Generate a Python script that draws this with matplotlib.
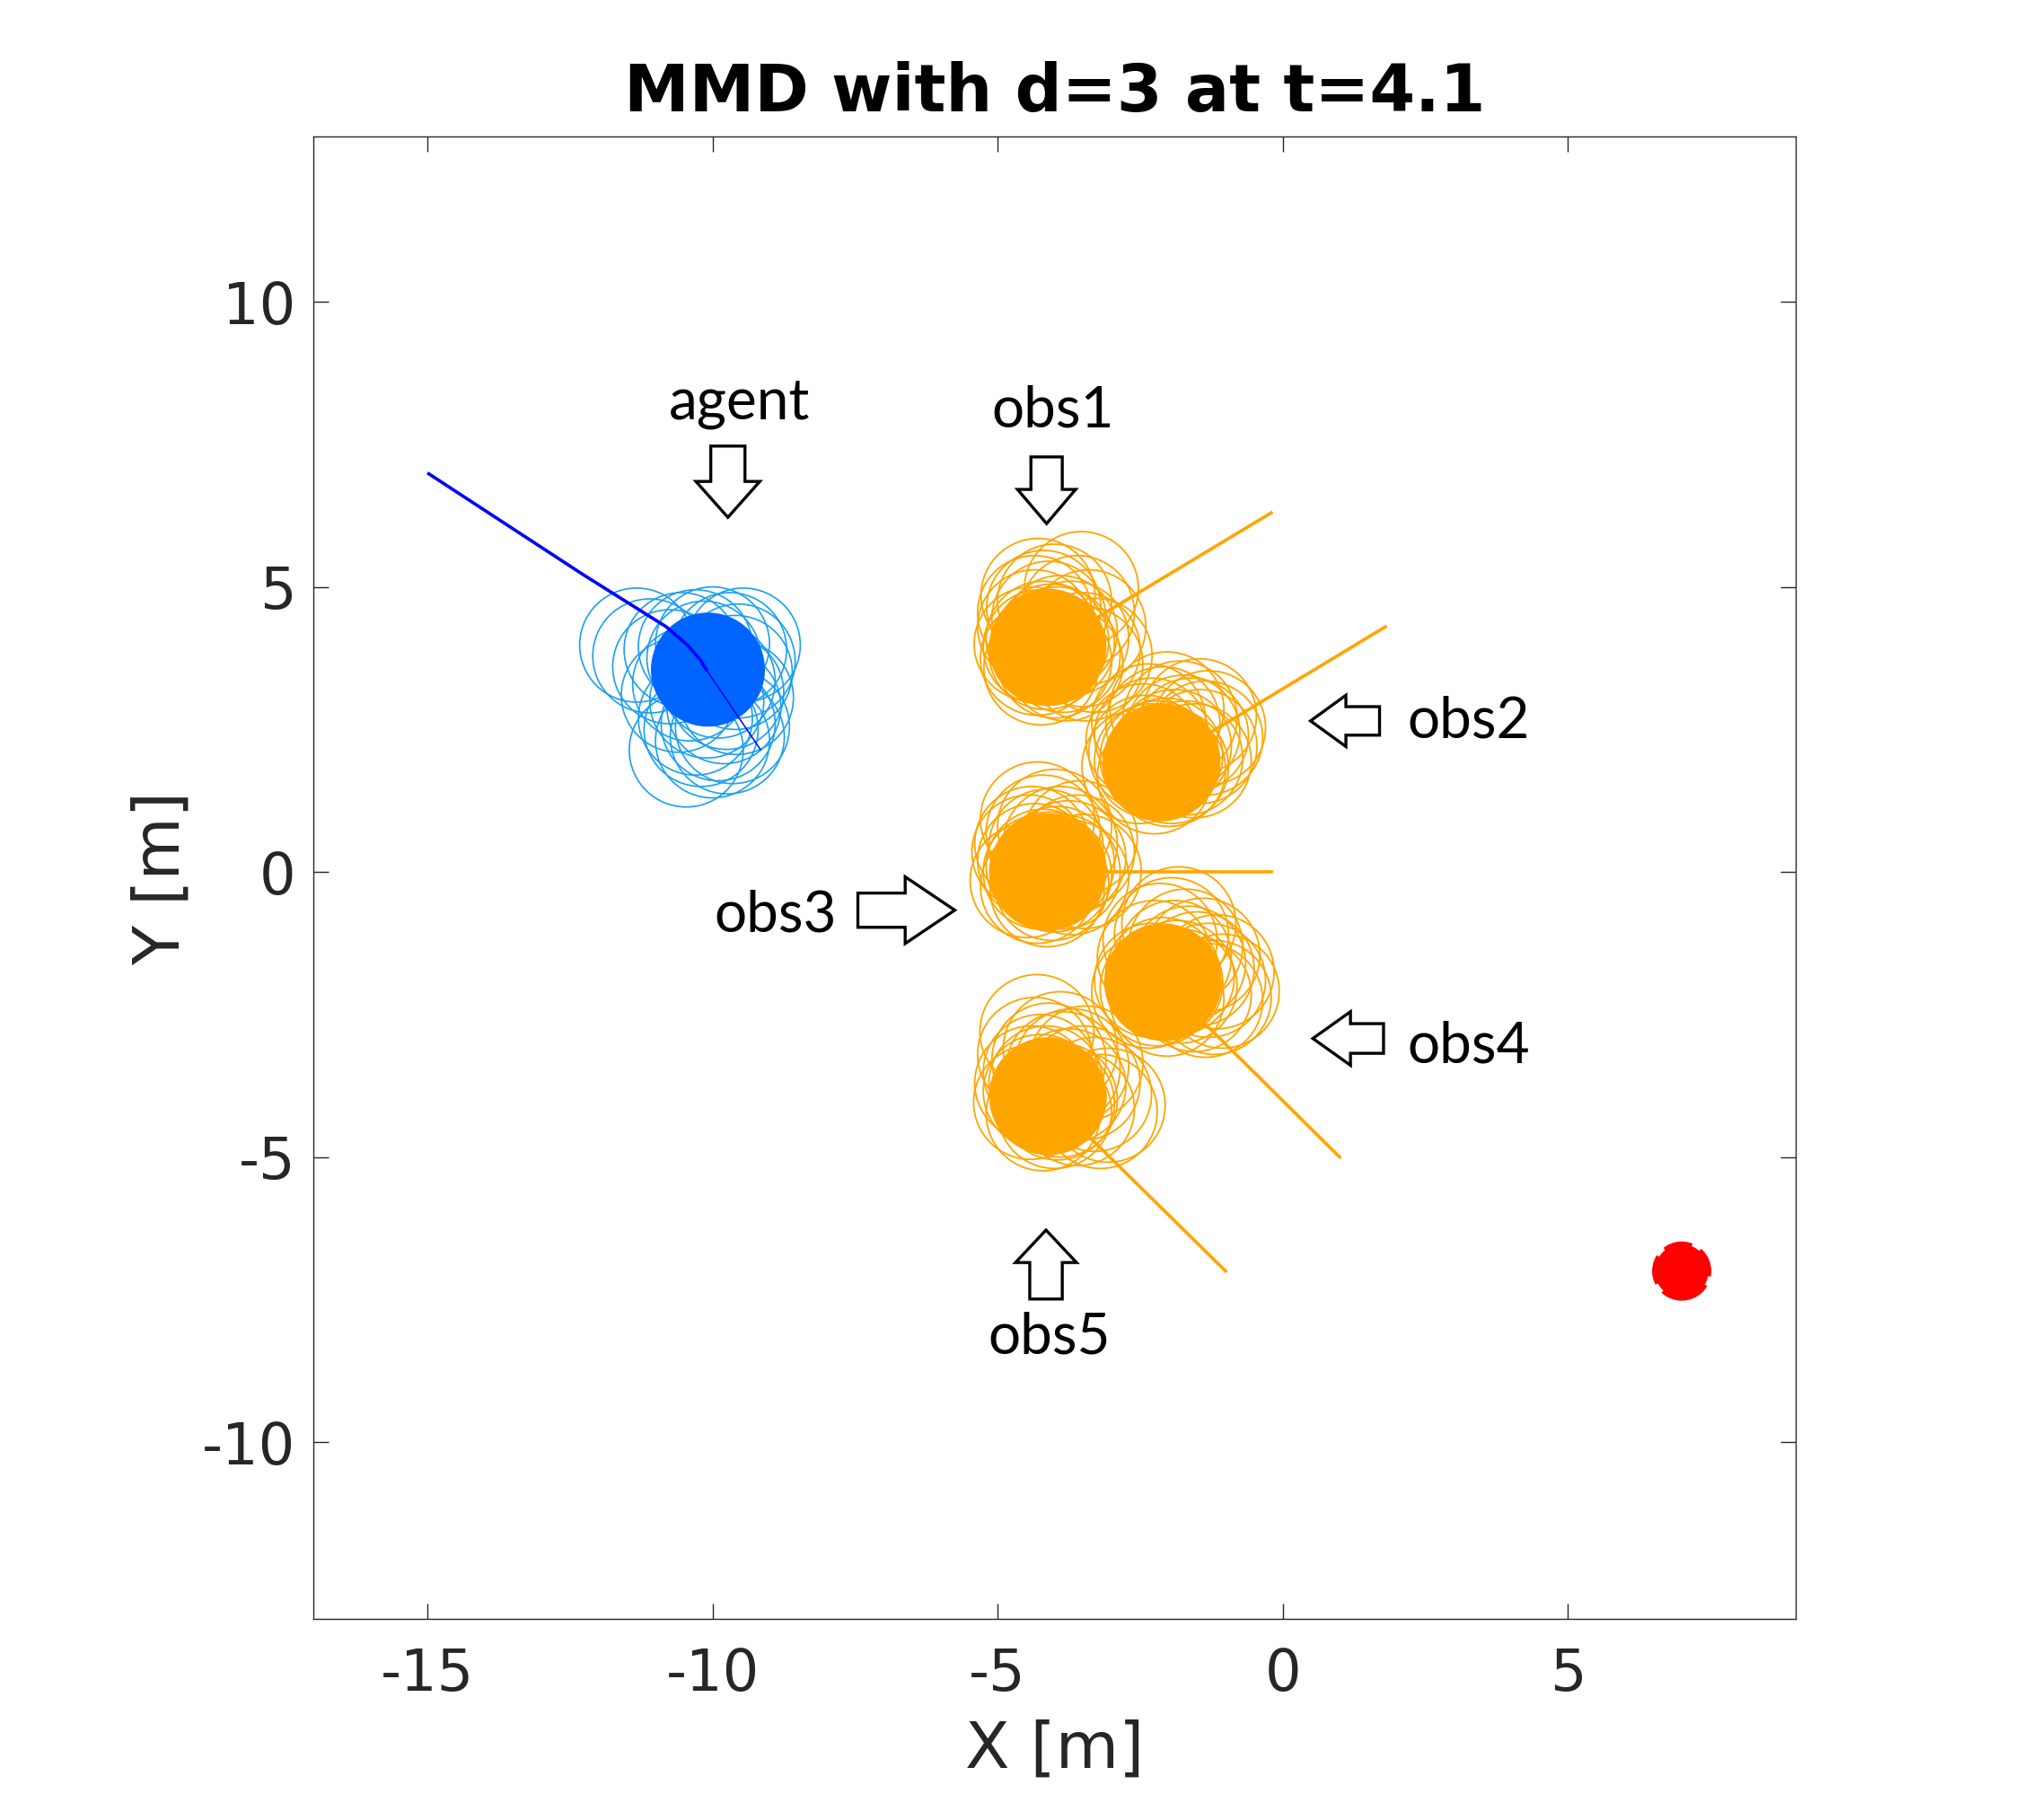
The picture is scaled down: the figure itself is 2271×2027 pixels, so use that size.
import numpy as np
import matplotlib
matplotlib.use('Agg')
import matplotlib.pyplot as plt
from matplotlib.patches import Circle, FancyArrow

plt.rcParams['axes.unicode_minus'] = False

# --- data ---
radius = 1.0

# agent: executed path (thick) and short planned path (thin)
agent_path_x = [-15.0, -12.26, -10.81, -10.44, -10.22, -10.09]
agent_path_y = [7.0, 5.21, 4.30, 3.98, 3.73, 3.52]
agent_plan_x = [-10.09, -9.16]
agent_plan_y = [3.52, 2.15]
agent_pos = (-10.08, 3.55)
agent_samples_x = [-11.33, -11.10, -10.46, -9.46, -9.58, -9.74, -10.75, -10.55, -10.30, -10.00,
                   -9.70, -9.60, -10.40, -10.10, -9.90, -10.20, -9.80, -10.60, -9.55, -10.00,
                   -9.65, -10.30, -9.90, -9.75, -10.15]
agent_samples_y = [3.98, 3.79, 2.14, 3.98, 3.06, 2.37, 3.60, 3.90, 3.95, 4.00,
                   3.90, 3.50, 3.30, 3.00, 2.60, 2.50, 2.90, 3.10, 3.70, 2.30,
                   2.55, 2.70, 3.35, 3.15, 3.75]

# obstacles: start of track, current position, predicted samples
obs_names = ['obs1', 'obs2', 'obs3', 'obs4', 'obs5']
obs_start_x = [-0.2, 1.8, -0.2, 1.0, -1.0]
obs_start_y = [6.3, 4.3, 0.0, -5.0, -7.0]
obs_pos_x = [-4.12, -2.12, -4.12, -2.10, -4.12]
obs_pos_y = [3.94, 1.93, 0.0, -1.93, -3.93]

obs1_samples_x = [-4.41, -4.35, -4.29, -4.19, -4.00, -3.53, -3.29, -4.24, -4.30, -4.10, -3.90,
                  -3.70, -3.50, -3.40, -3.60, -4.00, -3.80, -4.20, -3.95, -4.35, -3.45,
                  -4.15, -4.05, -4.25, -3.85]
obs1_samples_y = [4.00, 4.30, 4.85, 4.64, 4.75, 4.97, 3.80, 3.58, 3.75, 4.45, 4.20,
                  4.10, 3.90, 4.30, 4.55, 3.70, 3.65, 4.10, 4.00, 4.55, 3.65,
                  3.85, 4.05, 3.95, 3.80]
obs2_samples_x = [-2.52, -1.30, -2.03, -1.46, -2.25, -2.40, -2.30, -2.10, -1.80, -1.60,
                  -1.45, -1.70, -1.90, -2.00, -1.55, -2.35, -1.75, -2.20, -1.35, -2.45,
                  -2.15, -2.05, -1.95, -2.30]
obs2_samples_y = [1.85, 2.53, 2.86, 2.74, 1.67, 2.10, 2.40, 2.60, 2.70, 2.40,
                  2.20, 2.00, 2.20, 1.80, 1.95, 2.65, 2.45, 2.00, 2.35, 2.30,
                  1.90, 2.05, 1.85, 1.95]
obs3_samples_x = [-4.48, -4.30, -3.48, -4.13, -4.35, -4.40, -4.20, -4.00, -3.90, -3.75,
                  -3.60, -4.25, -4.05, -3.85, -4.45, -3.70, -4.15, -3.95, -3.55, -4.30,
                  -4.10, -4.20, -4.00]
obs3_samples_y = [-0.15, 0.93, 0.01, -0.31, 0.20, 0.50, 0.70, 0.80, 0.50, 0.25,
                  0.35, 0.00, -0.20, 0.00, 0.35, -0.10, 0.45, 0.15, 0.60, -0.25,
                  0.05, 0.10, -0.05]
obs4_samples_x = [-2.35, -1.82, -1.06, -2.03, -1.40, -2.25, -2.15, -1.95, -1.70, -1.50,
                  -1.30, -1.20, -1.55, -1.80, -2.10, -1.65, -1.90, -2.30, -1.35, -1.15,
                  -2.05, -2.20, -1.85]
obs4_samples_y = [-2.09, -0.91, -2.09, -2.23, -1.46, -1.50, -1.20, -1.10, -1.30, -1.70,
                  -1.90, -2.20, -2.15, -2.00, -1.80, -1.60, -1.50, -1.90, -2.25, -1.75,
                  -1.95, -2.05, -1.85]
obs5_samples_x = [-4.42, -4.31, -3.06, -4.20, -4.35, -4.25, -4.10, -3.90, -3.70, -3.50,
                  -3.30, -3.20, -3.60, -3.90, -4.15, -3.75, -4.40, -3.45, -4.00, -3.85,
                  -4.10, -4.25, -3.95]
obs5_samples_y = [-4.04, -2.80, -4.09, -4.24, -3.20, -3.50, -3.30, -3.10, -3.40, -3.70,
                  -3.90, -4.20, -4.15, -4.00, -3.70, -3.75, -3.70, -3.35, -4.20, -3.45,
                  -3.95, -3.85, -4.05]
obs_samples = [(obs1_samples_x, obs1_samples_y), (obs2_samples_x, obs2_samples_y),
               (obs3_samples_x, obs3_samples_y), (obs4_samples_x, obs4_samples_y),
               (obs5_samples_x, obs5_samples_y)]

goal = (7.0, -7.0)

x_ticks = [-15, -10, -5, 0, 5]
y_ticks = [-10, -5, 0, 5, 10]

# --- figure ---
fig = plt.figure(figsize=(22.71, 20.27), dpi=100)
ax = fig.add_axes([0.1537, 0.1105, 0.7270, 0.8145])

light_blue = '#1a9ff2'
agent_blue = '#0064ff'
orange = '#ffa500'
dark = '#262626'

# agent
for sx, sy in zip(agent_samples_x, agent_samples_y):
    ax.add_patch(Circle((sx, sy), radius, fill=False, ec=light_blue, lw=1.2, zorder=2))
ax.add_patch(Circle(agent_pos, radius, fc=agent_blue, ec='none', zorder=3))
ax.plot(agent_path_x, agent_path_y, color='#0000ff', lw=2.6, solid_capstyle='butt', zorder=4)
ax.plot(agent_plan_x, agent_plan_y, color='#0000ff', lw=1.1, zorder=4)

# obstacles
for i in range(len(obs_names)):
    sx_list, sy_list = obs_samples[i]
    for sx, sy in zip(sx_list, sy_list):
        ax.add_patch(Circle((sx, sy), radius, fill=False, ec=orange, lw=1.3, zorder=2))
    ax.plot([obs_start_x[i], obs_pos_x[i]], [obs_start_y[i], obs_pos_y[i]],
            color=orange, lw=2.6, zorder=3)
    ax.add_patch(Circle((obs_pos_x[i], obs_pos_y[i]), radius * 1.03, fc=orange, ec='none', zorder=4))

# goal
ax.add_patch(Circle(goal, 0.47, fc='red', ec='red', lw=4.5,
                    linestyle=(0, (5.0, 1.6)), zorder=5))

# block arrows + labels
arrow_kw = dict(length_includes_head=True, fc='white', ec='black', lw=2.4, zorder=6)
ax.add_patch(FancyArrow(-9.73, 7.47, 0, -1.25, width=0.6, head_width=1.12, head_length=0.63, **arrow_kw))
ax.add_patch(FancyArrow(-4.14, 7.28, 0, -1.17, width=0.55, head_width=1.02, head_length=0.6, **arrow_kw))
ax.add_patch(FancyArrow(1.70, 2.65, -1.21, 0, width=0.5, head_width=0.9, head_length=0.62, **arrow_kw))
ax.add_patch(FancyArrow(-7.45, -0.67, 1.70, 0, width=0.6, head_width=1.17, head_length=0.87, **arrow_kw))
ax.add_patch(FancyArrow(1.77, -2.92, -1.24, 0, width=0.52, head_width=0.94, head_length=0.66, **arrow_kw))
ax.add_patch(FancyArrow(-4.15, -7.49, 0, 1.21, width=0.57, head_width=1.07, head_length=0.57, **arrow_kw))

lab_kw = dict(family='Lato', fontsize=46, color='black', ha='center', va='baseline', zorder=7)
ax.text(-9.53, 7.95, 'agent', **lab_kw)
ax.text(-4.03, 7.80, 'obs1', **lab_kw)
ax.text(3.26, 2.35, 'obs2', **lab_kw)
ax.text(-8.89, -1.05, 'obs3', **lab_kw)
ax.text(3.26, -3.35, 'obs4', **lab_kw)
ax.text(-4.10, -8.45, 'obs5', **lab_kw)

# axes styling (matlab look)
ax.set_xlim(-17, 9)
ax.set_ylim(-13.1, 12.9)
ax.set_xticks(x_ticks)
ax.set_yticks(y_ticks)
ax.tick_params(direction='in', length=12, width=1.0, color=dark, labelsize=46,
               labelcolor=dark, top=True, right=True)
ax.tick_params(axis='x', pad=22)
ax.tick_params(axis='y', pad=14)
for s in ax.spines.values():
    s.set_color(dark)
    s.set_linewidth(1.0)

ax.set_xlabel('X [m]', fontsize=52, color=dark, labelpad=14)
ax.set_ylabel('Y [m]', fontsize=52, color=dark, labelpad=8)
ax.set_title('MMD with d=3 at t=4.1', fontsize=52.5, fontweight='bold', pad=20)

fig.savefig('out.png', dpi=100, facecolor='white')
